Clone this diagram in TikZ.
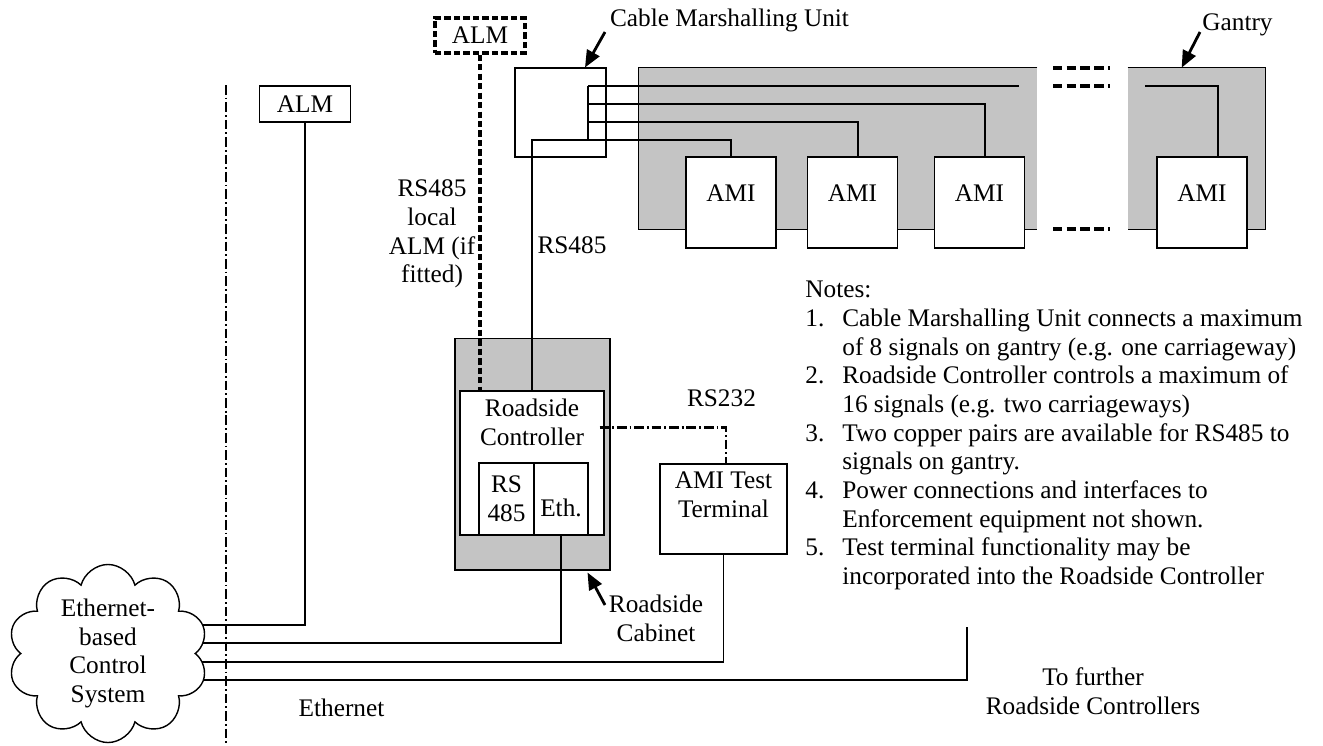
\documentclass[tikz,border=0pt]{standalone}
\usepackage{fontspec}
\setmainfont{Liberation Serif}
\usetikzlibrary{arrows.meta,calc,shapes.symbols}
\definecolor{HatchGray}{RGB}{196,196,196}
\newcommand{\notenum}[1]{\makebox[0.74cm][l]{#1}}

\begin{document}
\begin{tikzpicture}[x=0.02cm, y=-0.02cm, every node/.style={font=\fontsize{14.4}{16.3}\selectfont},
  box/.style={draw, fill=white, line width=0.6pt, inner sep=0pt},
  shaded/.style={fill=HatchGray, inner sep=0pt},
  amibox/.style={box, minimum width=1.8cm, minimum height=1.82cm, text depth=0.36cm},
  wire/.style={line width=0.6pt},
  dashwire/.style={line width=1.8pt, dash pattern=on 3.6pt off 1.8pt},
  gapmark/.style={line width=1.8pt, dash pattern=on 5.4pt off 2.4pt},
  dotdash/.style={line width=1.7pt, dash pattern=on 5.5pt off 1.7pt on 1pt off 1.7pt},
  callout/.style={line width=1.6pt, -{Triangle[length=0.34cm,width=0.28cm]}}]
\useasboundingbox (0,0) rectangle (1323,745);

\node[shaded, minimum width=7.96cm, minimum height=3.22cm] (gantry1) at (838,148.5) {};
\node[shaded, minimum width=2.74cm, minimum height=3.22cm] (gantry2) at (1196.5,148.5) {};
\draw[wire] (gantry1.north east) -- (gantry1.north west) -- (gantry1.south west) -- (gantry1.south east);
\draw[wire] (gantry2.north west) -- (gantry2.north east) -- (gantry2.south east) -- (gantry2.south west);
\foreach \y in {68,86,229}
  \draw[gapmark] (1053,\y) -- (1110,\y);

\node[amibox] (ami1) at (731,202.5) {AMI};
\node[amibox] (ami2) at (852.5,202.5) {AMI};
\node[amibox] (ami3) at (979.5,202.5) {AMI};
\node[amibox] (ami4) at (1202,202.5) {AMI};
\node[box, minimum width=1.82cm, minimum height=1.78cm] (cmu) at (560.5,112.5) {};
\node[box, minimum width=1.82cm, minimum height=0.72cm] (almw) at (305,104) {ALM};
\node[box, dashwire, minimum width=1.8cm, minimum height=0.7cm] (almd) at (480,35.5) {ALM};

\node[shaded, draw, line width=0.6pt, minimum width=3.1cm, minimum height=4.64cm] (cabinet) at (532.5,454) {};
\node[box, minimum width=2.88cm, minimum height=2.88cm] (rc) at (532,463) {};
\node[align=center] (rctext) at (532,422.5) {Roadside\\Controller};
\node[box, align=center, minimum width=1.1cm, minimum height=1.44cm] (p485) at (506.5,499) {RS\\485};
\node[box, minimum width=1.08cm, minimum height=1.44cm] (peth) at (561,499) {};
\node (ethtext) at (561,508) {Eth.};
\node[box, minimum width=2.54cm, minimum height=1.8cm] (att) at (723.5,509) {};
\node[align=center] (atttext) at (723.5,495) {AMI Test\\Terminal};

\coordinate (b1) at (588,86);
\coordinate (b2) at (588,104);
\coordinate (b3) at (588,122);
\coordinate (b4) at (588,140);
\coordinate (g1end) at (1019,86);
\coordinate (g2start) at (1145,86);
\draw[wire] (b1) -- (b4);
\draw[wire] (b1) -- (g1end);
\draw[wire] (b2) -| ($(ami3.north)+(5.5,0)$);
\draw[wire] (b3) -| ($(ami2.north)+(5.5,0)$);
\draw[wire] (rc.north) |- (b4) -| (ami1.north);
\draw[wire] (g2start) -| ($(ami4.north)+(16,0)$);
\draw[dashwire] (almd.south) -- (almd.south |- rc.north);
\draw[dotdash] ($(rc.east)+(-5,-36)$) -| ($(att.north)+(2.5,0)$);

\coordinate (e1) at (108,625);
\coordinate (e2) at (108,643);
\coordinate (e3) at (108,662);
\coordinate (e4) at (108,680);
\coordinate (fur) at (967,627);
\draw[wire] (almw.south) |- (e1);
\draw[wire] (peth.south) |- (e2);
\draw[wire] (att.south) |- (e3);
\draw[wire] (fur) |- (e4);
\node[cloud, draw, fill=white, line width=0.8pt, cloud puffs=10, cloud ignores aspect, minimum width=4cm, minimum height=3.26cm, inner sep=0pt, align=center] (ecs) at (108,653.5) {Ethernet-\\based\\Control\\System};
\draw[dotdash] (226,85) -- (226,745);

\coordinate (cmutail) at (605,32);
\coordinate (gantrytail) at (1200,32);
\coordinate (cabtail) at (605,605);
\draw[callout] (cmutail) -- ($(cmu.north)+(24.5,0)$);
\draw[callout] (gantrytail) -- ($(gantry2.north west)+(54,0)$);
\draw[callout] (cabtail) -- ($(cabinet.south east)+(-23,2)$);

\node (cmulbl) at (729.5,20) {Cable Marshalling Unit};
\node (gantrylbl) at (1237.5,25) {Gantry};
\node[align=center] (locallbl) at (432,234) {RS485\\local\\ALM (if\\fitted)};
\node (rs485lbl) at (572,245) {RS485};
\node (rs232lbl) at (721.5,398) {RS232};
\node[align=center] (cablbl) at (656,618.5) {Roadside\\Cabinet};
\node (ethlbl) at (341.5,708) {Ethernet};
\node[align=center] (furtherlbl) at (1093,691.5) {To further\\Roadside Controllers};
\node[anchor=north west, align=left, inner sep=0pt] (notes) at (805,281) {Notes:\\
\notenum{1.}Cable Marshalling Unit connects a maximum\\
\hspace*{0.74cm}of 8 signals on gantry (e.g. one carriageway)\\
\notenum{2.}Roadside Controller controls a maximum of\\
\hspace*{0.74cm}16 signals (e.g. two carriageways)\\
\notenum{3.}Two copper pairs are available for RS485 to\\
\hspace*{0.74cm}signals on gantry.\\
\notenum{4.}Power connections and interfaces to\\
\hspace*{0.74cm}Enforcement equipment not shown.\\
\notenum{5.}Test terminal functionality may be\\
\hspace*{0.74cm}incorporated into the Roadside Controller};
\end{tikzpicture}
\end{document}
